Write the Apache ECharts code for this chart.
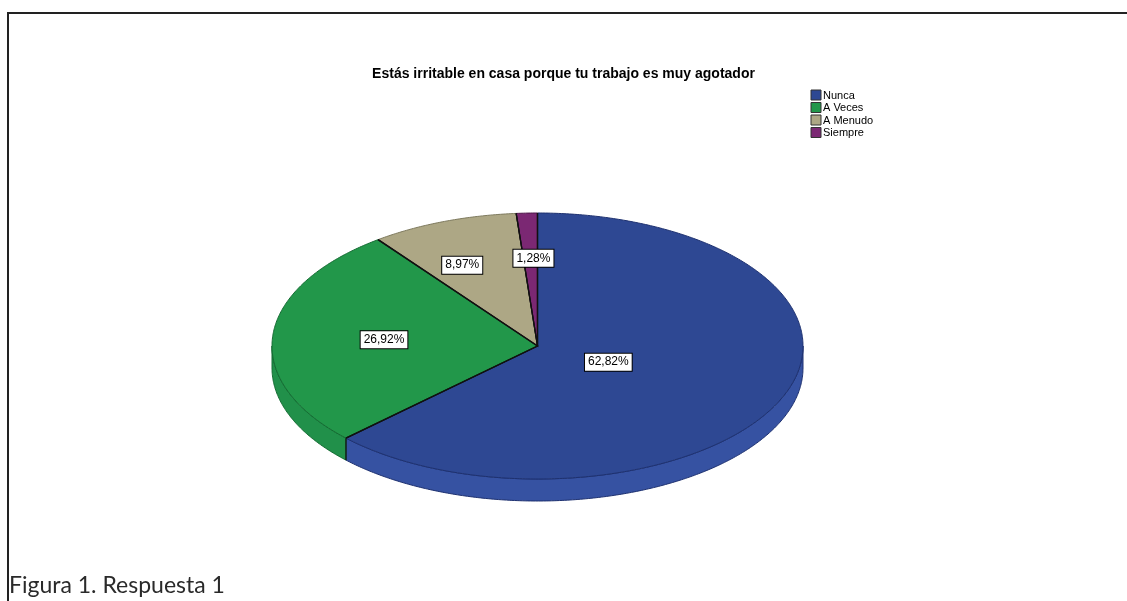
<!DOCTYPE html>
<html>
<head>
<meta charset="utf-8">
<title>Estás irritable en casa porque tu trabajo es muy agotador</title>
<script src="https://cdn.jsdelivr.net/npm/echarts@6/dist/echarts.min.js"></script>
<style>
  html, body { margin: 0; padding: 0; background: #fff; }
  #chart { width: 1127px; height: 601px; }
</style>
</head>
<body>
<div id="chart"></div>
<script>
// Survey answers and their share of responses (%)
const categories = ['Nunca', 'A Veces', 'A Menudo', 'Siempre'];
const percentages = [62.82, 26.92, 8.97, 1.28];
const titleText = 'Estás irritable en casa porque tu trabajo es muy agotador';
const captionText = 'Figura 1. Respuesta 1';

// Slice colours (top face / side wall / rim edge)
const topColors = ['#2E4893', '#22974A', '#ADA785', '#7B2873'];
const sideColors = ['#3652A2', '#21904A', '#A39D7C', '#70246A'];
const edgeColors = ['#1E3170', '#146B32', '#7E7A5E', '#4E1649'];

// Geometry of the tilted pie
const CX = 537.5, CY = 346, RX = 265.5, RY = 133, DEPTH = 22;
// Where each value label sits along its slice's middle radius (x, y fractions)
const labelFrac = [[0.29, 0.31], [0.58, 0.57], [0.80, 0.65], [0.38, 0.66]];

const total = percentages.reduce((a, b) => a + b, 0);
const starts = [];
let acc = 0;
percentages.forEach(v => { starts.push(acc); acc += v; });

function pt(theta, dy) {
  return [CX + RX * Math.sin(theta), CY - RY * Math.cos(theta) + (dy || 0)];
}
function arc(a0, a1, dy) {
  const pts = [];
  const n = Math.max(2, Math.ceil((a1 - a0) / 0.01));
  for (let i = 0; i <= n; i++) pts.push(pt(a0 + (a1 - a0) * i / n, dy));
  return pts;
}

function renderItem(params, api) {
  const i = params.dataIndex;
  const v = api.value(0);
  const a0 = starts[i] / total * Math.PI * 2;
  const a1 = a0 + v / total * Math.PI * 2;
  const children = [];

  // visible front wall: the part of the rim lying in the lower half of the ellipse
  const s0 = Math.max(a0, Math.PI / 2), s1 = Math.min(a1, Math.PI * 1.5);
  if (s1 > s0) {
    const top = arc(s0, s1, 0);
    const bottom = arc(s0, s1, DEPTH).reverse();
    children.push({
      type: 'polygon',
      z2: 1,
      shape: { points: top.concat(bottom) },
      style: { fill: sideColors[i], stroke: edgeColors[i], lineWidth: 1 }
    });
    // seam where the wall of one slice meets the next
    if (a1 < Math.PI * 1.5 && a1 > Math.PI / 2) {
      children.push({
        type: 'polyline',
        z2: 2,
        shape: { points: [pt(a1, 0), pt(a1, DEPTH)] },
        style: { stroke: '#111', lineWidth: 1.2 }
      });
    }
  }

  // top face
  children.push({
    type: 'polygon',
    z2: 5,
    shape: { points: [[CX, CY]].concat(arc(a0, a1, 0)) },
    style: { fill: topColors[i], stroke: edgeColors[i], lineWidth: 1 }
  });
  // radial slice borders
  children.push({
    type: 'polyline',
    z2: 6,
    shape: { points: [pt(a0, 0), [CX, CY], pt(a1, 0)] },
    style: { stroke: '#111', lineWidth: 1.3, fill: null }
  });

  // value label
  const mid = (a0 + a1) / 2;
  const f = labelFrac[i];
  children.push({
    type: 'text',
    z2: 10,
    style: {
      x: CX + RX * Math.sin(mid) * f[0],
      y: CY - RY * Math.cos(mid) * f[1],
      text: v.toFixed(2).replace('.', ',') + '%',
      align: 'center',
      verticalAlign: 'middle',
      fill: '#000',
      font: '12px "Liberation Sans", Arial, sans-serif',
      backgroundColor: '#fff',
      borderColor: '#000',
      borderWidth: 1,
      padding: [3, 3, 2, 3]
    }
  });

  return { type: 'group', children: children };
}

// legend entries built from the category list
const legendItems = [];
categories.forEach((name, i) => {
  const y = 90 + i * 12.5;
  legendItems.push({
    type: 'rect',
    shape: { x: 811, y: y, width: 10, height: 10 },
    style: { fill: topColors[i], stroke: '#333', lineWidth: 1 }
  });
  legendItems.push({
    type: 'text',
    style: {
      x: 823, y: y + 5.5, text: name,
      verticalAlign: 'middle',
      fill: '#000',
      font: '11px "Liberation Sans", Arial, sans-serif'
    }
  });
});

const chart = echarts.init(document.getElementById('chart'), null, { renderer: 'canvas' });
chart.setOption({
  backgroundColor: '#fff',
  animation: false,
  title: {
    text: titleText,
    left: 'center',
    top: 62,
    textStyle: {
      fontFamily: '"Liberation Sans", Arial, sans-serif',
      fontWeight: 'bold',
      fontSize: 14,
      color: '#000'
    }
  },
  graphic: [
    // figure frame
    { type: 'polyline', shape: { points: [[8, 601], [8, 13], [1127, 13]] },
      style: { stroke: '#222', lineWidth: 2, fill: null } },
    { type: 'text', style: { x: 9, y: 597, text: captionText, verticalAlign: 'bottom',
      fill: '#2a2a2a', font: '23px Lato, "Open Sans", sans-serif' } }
  ].concat(legendItems),
  series: [{
    type: 'custom',
    coordinateSystem: 'none',
    renderItem: renderItem,
    data: percentages.map((v, i) => ({ name: categories[i], value: [v] }))
  }]
});
</script>
</body>
</html>
